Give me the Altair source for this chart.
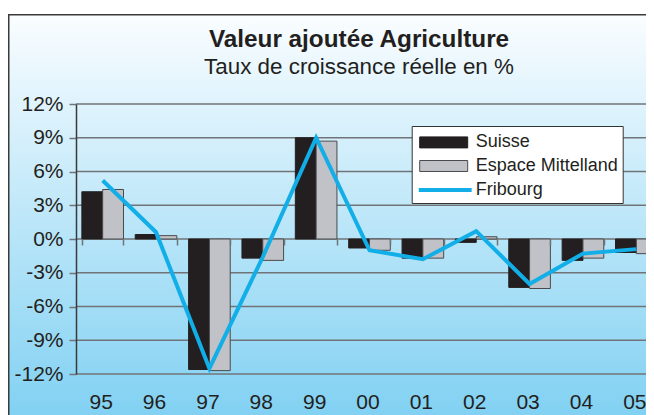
import altair as alt
import pandas as pd

# ---- data ----
years = ["95", "96", "97", "98", "99", "00", "01", "02", "03", "04", "05"]
suisse = [4.2, 0.4, -11.6, -1.7, 9.0, -0.8, -1.7, -0.3, -4.3, -1.9, -1.2]
espace = [4.4, 0.3, -11.7, -1.9, 8.7, -1.0, -1.7, 0.2, -4.4, -1.7, -1.3]
fribourg = [5.2, 0.6, -11.5, -1.6, 9.0, -1.0, -1.8, 0.7, -4.0, -1.3, -0.9]
series_names = ["Suisse", "Espace Mittelland", "Fribourg"]
y_ticks = [-12, -9, -6, -3, 0, 3, 6, 9, 12]

bars_df = pd.DataFrame({
    "year": years * 2,
    "series": [series_names[0]] * len(years) + [series_names[1]] * len(years),
    "value": suisse + espace,
})
line_df = pd.DataFrame({"year": years, "series": series_names[2], "value": fribourg})
grid_df = pd.DataFrame({"v": y_ticks})

FONT = "Liberation Sans"
TEXT = "#231f20"
GRID = "#707478"
CYAN = "#12aee8"

y_scale = alt.Scale(domain=[-12, 12], nice=False, zero=False)
y_axis = alt.Axis(title=None, values=y_ticks, labelExpr="datum.value + '%'", grid=False,
                  domain=True, domainColor="#3a3a3a", domainWidth=1.5,
                  ticks=True, tickSize=7, tickColor=GRID, tickWidth=1.5,
                  labelFont=FONT, labelFontSize=21, labelColor=TEXT, labelPadding=6,
                  zindex=1)

x_scale = alt.Scale(range=[0, 587], paddingInner=0.22, paddingOuter=0.11)
x_axis = alt.Axis(title=None, labelAngle=0, offset=-135, domain=False, tickBand="extent",
                  tickSize=6, tickColor=GRID, tickWidth=1.5,
                  labelFont=FONT, labelFontSize=21, labelColor=TEXT, labelPadding=146,
                  labelOffset=-2, zindex=1)

bar_legend = alt.Legend(orient="none", legendX=335.7, legendY=22, title=None,
                        symbolType="M-2.087,-0.478H2.087V0.478H-2.087Z", symbolSize=529,
                        symbolStrokeWidth=1, labelFont=FONT, labelFontSize=18, labelColor=TEXT,
                        labelLimit=400, fillColor="white", strokeColor="#333333",
                        padding=4.4, rowPadding=2.6, symbolOffset=15.6, labelOffset=20,
                        zindex=1)

line_legend = alt.Legend(orient="none", legendX=335.7, legendY=65.5, title=None,
                         symbolType="M-2.3,0H2.3", symbolSize=529, symbolStrokeWidth=4,
                         labelExpr="''", padding=7, symbolOffset=13, zindex=2)

bg = alt.Chart(alt.Data(values=[{"a": 1}])).mark_rect(
    fill={"gradient": "linear", "x1": 0, "x2": 0, "y1": 0, "y2": 1,
          "stops": [{"offset": 0, "color": "#fafdff"}, {"offset": 1, "color": "#7ccff2"}]},
    stroke="#3a3a3a", strokeWidth=1.5,
).encode(x=alt.value(-67.25), x2=alt.value(640), y=alt.value(-89.25), y2=alt.value(330))

grid = alt.Chart(grid_df).mark_rule(color=GRID, strokeWidth=1.5).encode(
    y=alt.Y("v:Q", scale=y_scale, axis=y_axis)
)

bars = alt.Chart(bars_df).mark_bar(strokeWidth=1).encode(
    x=alt.X("year:N", sort=years, scale=x_scale, axis=x_axis),
    xOffset=alt.XOffset("series:N", sort=series_names[:2]),
    y=alt.Y("value:Q", scale=y_scale, axis=y_axis),
    fill=alt.Fill("series:N", scale=alt.Scale(domain=series_names,
                                              range=["#231f20", "#c0c2c7", "rgba(0,0,0,0)"]),
                  legend=bar_legend),
    stroke=alt.Stroke("series:N", scale=alt.Scale(domain=series_names,
                                                  range=["#231f20", "#4a4a4c", "rgba(0,0,0,0)"]),
                      legend=bar_legend),
)

line = alt.Chart(line_df).mark_line(strokeWidth=4).encode(
    x=alt.X("year:N", sort=years, scale=x_scale, axis=x_axis),
    y=alt.Y("value:Q", scale=y_scale, axis=y_axis),
    color=alt.Color("series:N", scale=alt.Scale(domain=[series_names[2]], range=[CYAN]),
                    legend=line_legend),
)

chart = alt.layer(bg, grid, bars, line).properties(
    width=570, height=270,
    title=alt.TitleParams(text="Valeur ajoutée Agriculture",
                          subtitle="Taux de croissance réelle en %",
                          font=FONT, fontSize=24.3, fontWeight="bold", color=TEXT,
                          subtitleFont=FONT, subtitleFontSize=22.4, subtitleColor=TEXT,
                          subtitlePadding=3, anchor="middle", dx=-2, offset=-64, zindex=1),
    autosize=alt.AutoSizeParams(type="none"),
    padding={"left": 68, "top": 96, "right": 0, "bottom": 41},
).configure_view(stroke=None)

chart.save("out.html", embed_options={"renderer": "svg", "actions": False})
